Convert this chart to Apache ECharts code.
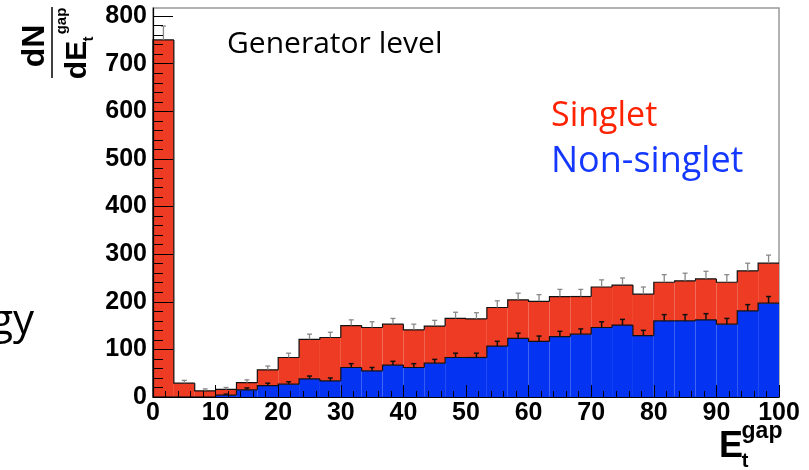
<!DOCTYPE html>
<html>
<head>
<meta charset="utf-8">
<script src="https://cdn.jsdelivr.net/npm/echarts@6/dist/echarts.min.js"></script>
<style>
html,body{margin:0;padding:0;background:#fff;}
#chart{width:809px;height:470px;}
</style>
</head>
<body>
<div id="chart"></div>
<script>
// Histogram bin edges (E_t^gap), 30 bins from 0 to 100
const binEdges = [0, 3.333, 6.667, 10, 13.333, 16.667, 20, 23.333, 26.667, 30, 33.333, 36.667, 40, 43.333, 46.667, 50,
  53.333, 56.667, 60, 63.333, 66.667, 70, 73.333, 76.667, 80, 83.333, 86.667, 90, 93.333, 96.667, 100];
// Non-singlet (blue) counts
const nonSinglet = [0, 0, 0, 4, 15, 24, 27, 38, 34, 62, 55, 67, 62, 71, 83,
  83, 107, 123, 117, 127, 132, 146, 151, 129, 160, 160, 162, 153, 181, 197];
// Singlet (red) counts, stacked on top of the non-singlet
const singlet = [750, 29, 13, 12, 15, 33, 56, 83, 91, 88, 91, 86, 79, 78, 82,
  81, 81, 81, 84, 84, 79, 85, 84, 87, 81, 84, 86, 88, 84, 84];
// Upward error bars
const totalErr = [29, 6, 4, 4, 6, 8, 9, 11, 11, 12, 12, 12, 12, 12, 13,
  13, 14, 14, 14, 15, 15, 15, 15, 15, 16, 16, 16, 16, 16, 17];
const nonSingletErr = [0, 0, 0, 2, 4, 5, 5, 6, 6, 8, 7, 8, 8, 8, 9,
  9, 10, 11, 11, 11, 11, 12, 12, 11, 13, 13, 13, 12, 13, 14];
// Tick labels
const xTicks = [0, 10, 20, 30, 40, 50, 60, 70, 80, 90, 100];
const yTicks = [0, 100, 200, 300, 400, 500, 600, 700, 800];

const yMinor = [];
for (let v = 0; v <= 800; v += 20) { if (v % 100 !== 0) yMinor.push(v); }

const Y_MAX = 817;
const RED = '#ee3b24';
const BLUE = '#0433f2';

const rows = binEdges.slice(0, -1).map((lo, i) => [lo, binEdges[i + 1], nonSinglet[i], singlet[i], nonSinglet[i] + singlet[i],
  nonSingletErr[i], totalErr[i], i > 0 ? nonSinglet[i - 1] : 0, i > 0 ? nonSinglet[i - 1] + singlet[i - 1] : 0]);

function fillItem(params, api) {
  const x0 = api.value(0), x1 = api.value(1), b = api.value(2), t = api.value(4);
  const p0 = api.coord([x0, 0]), p1 = api.coord([x1, b]), p2 = api.coord([x1, t]);
  const children = [];
  if (b > 0) children.push({ type: 'rect', shape: { x: p0[0], y: p1[1], width: p1[0] - p0[0], height: p0[1] - p1[1] }, style: { fill: BLUE } });
  const pb = api.coord([x0, b]);
  children.push({ type: 'rect', shape: { x: p0[0], y: p2[1], width: p2[0] - p0[0], height: pb[1] - p2[1] }, style: { fill: RED } });
  return { type: 'group', children };
}

function lineItem(params, api) {
  const x0 = api.value(0), x1 = api.value(1), b = api.value(2), t = api.value(4);
  const eb = api.value(5), et = api.value(6), pb = api.value(7), pt = api.value(8);
  const xc = (x0 + x1) / 2;
  const children = [];
  const bl = [api.coord([x0, pb]), api.coord([x0, b]), api.coord([x1, b])];
  const tl = [api.coord([x0, pt]), api.coord([x0, t]), api.coord([x1, t])];
  children.push({ type: 'polyline', shape: { points: bl }, style: { stroke: '#111', lineWidth: 1.2, fill: null } });
  children.push({ type: 'polyline', shape: { points: tl }, style: { stroke: '#111', lineWidth: 1.2, fill: null } });
  if (eb > 0) {
    const a = api.coord([xc, b]), c = api.coord([xc, b + eb]);
    children.push({ type: 'line', shape: { x1: a[0], y1: a[1], x2: c[0], y2: c[1] }, style: { stroke: '#111', lineWidth: 1.5 } });
    children.push({ type: 'line', shape: { x1: c[0] - 2.5, y1: c[1], x2: c[0] + 2.5, y2: c[1] }, style: { stroke: '#111', lineWidth: 1.5 } });
  }
  if (et > 0) {
    const a = api.coord([xc, t]), c = api.coord([xc, t + et]);
    children.push({ type: 'line', shape: { x1: a[0], y1: a[1], x2: c[0], y2: c[1] }, style: { stroke: '#888', lineWidth: 1.3 } });
    children.push({ type: 'line', shape: { x1: c[0] - 2.5, y1: c[1], x2: c[0] + 2.5, y2: c[1] }, style: { stroke: '#888', lineWidth: 1.3 } });
  }
  return { type: 'group', children };
}

function rotText(x, y, text, size) {
  return { type: 'text', x: x, y: y, rotation: Math.PI / 2,
    style: { text: text, font: 'bold ' + size + 'px "Liberation Sans"', fill: '#000', align: 'center', verticalAlign: 'middle' } };
}

const chart = echarts.init(document.getElementById('chart'), null, { renderer: 'canvas' });
const axisFont = { fontFamily: 'Liberation Sans', fontWeight: 'bold', fontSize: 25, color: '#000' };
const bold = 'bold ';
const option = {
  animation: false,
  backgroundColor: '#fff',
  grid: { left: 153, right: 30, top: 8, bottom: 73, show: true, borderColor: '#999', borderWidth: 1.5 },
  xAxis: {
    type: 'value', min: 0, max: 100, interval: 10, z: 10,
    axisLine: { show: true, onZero: false, lineStyle: { color: '#000', width: 1.2 } },
    axisTick: { show: true, inside: true, length: 12, lineStyle: { color: '#000', width: 1 } },
    minorTick: { show: true, splitNumber: 5, length: 6, lineStyle: { color: '#000', width: 1 } },
    axisLabel: Object.assign({ margin: 4, customValues: xTicks }, axisFont),
    splitLine: { show: false }
  },
  yAxis: [{
    type: 'value', min: 0, max: Y_MAX, z: 10, position: 'left',
    axisLine: { show: true, lineStyle: { color: '#000', width: 1.2 } },
    axisTick: { show: true, inside: true, length: 20, customValues: yTicks, lineStyle: { color: '#000', width: 1 } },
    axisLabel: Object.assign({ margin: 6, customValues: yTicks, padding: [5, 0, 0, 0] }, axisFont),
    splitLine: { show: false }
  }, {
    type: 'value', min: 0, max: Y_MAX, z: 10, position: 'left',
    axisLine: { show: false },
    axisTick: { show: true, inside: true, length: 10, customValues: yMinor, lineStyle: { color: '#000', width: 1 } },
    axisLabel: { show: false },
    splitLine: { show: false }
  }],
  series: [
    { type: 'custom', renderItem: fillItem, data: rows, z: 2, encode: { x: [0, 1], y: [4] } },
    { type: 'custom', renderItem: lineItem, data: rows, z: 3, encode: { x: [0, 1], y: [4] } }
  ],
  graphic: [
    { type: 'text', x: 227, y: 44, style: { text: 'Generator level', font: '30px "Open Sans"', fill: '#000', align: 'left', verticalAlign: 'middle' } },
    { type: 'text', x: 551, y: 116, style: { text: 'Singlet', font: '34px "Open Sans"', fill: '#ff2200', align: 'left', verticalAlign: 'middle' } },
    { type: 'text', x: 551, y: 162, style: { text: 'Non-singlet', font: '36px "Open Sans"', fill: '#1538ff', align: 'left', verticalAlign: 'middle' } },
    { type: 'text', x: 34, y: 322, style: { text: 'gy', font: '42px "Open Sans"', fill: '#000', align: 'right', verticalAlign: 'middle' } },
    // y title: dN / dE_t^gap (rotated)
    rotText(35, 46, 'dN', 32),
    { type: 'line', shape: { x1: 52, y1: 7, x2: 52, y2: 78 }, style: { stroke: '#000', lineWidth: 1.5 } },
    rotText(78, 60, 'dE', 30),
    rotText(62, 21, 'gap', 15),
    rotText(89, 39, 't', 15),
    // x title: E_t^gap
    { type: 'text', x: 731, y: 447, style: { text: 'E', font: bold + '36px "Liberation Sans"', fill: '#000', align: 'center', verticalAlign: 'middle' } },
    { type: 'text', x: 762, y: 432, style: { text: 'gap', font: bold + '23px "Liberation Sans"', fill: '#000', align: 'center', verticalAlign: 'middle' } },
    { type: 'text', x: 745, y: 461, style: { text: 't', font: bold + '20px "Liberation Sans"', fill: '#000', align: 'center', verticalAlign: 'middle' } }
  ]
};
chart.setOption(option);
</script>
</body>
</html>
